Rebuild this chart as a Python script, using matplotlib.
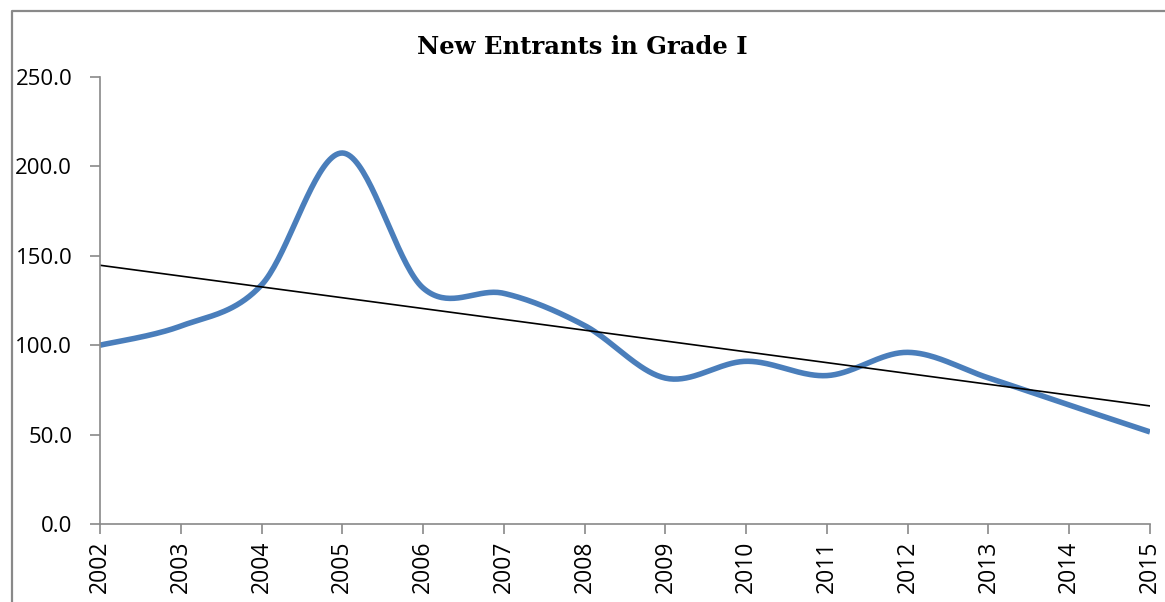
import numpy as np
import matplotlib.pyplot as plt
from matplotlib.lines import Line2D

years = [2002, 2003, 2004, 2005, 2006, 2007, 2008, 2009, 2010, 2011, 2012, 2013, 2014, 2015]
values = [100.0, 110.7, 133.7, 207.5, 132.0, 129.0, 111.0, 81.6, 91.0, 83.0, 96.0, 81.7, 66.5, 51.5]
y_ticks = [0, 50, 100, 150, 200, 250]


def smooth_curve(x, y, n=40):
    # Excel-like smoothing: Catmull-Rom style Bezier segments
    x = np.asarray(x, dtype=float)
    y = np.asarray(y, dtype=float)
    px = np.concatenate([[x[0]], x, [x[-1]]])
    py = np.concatenate([[y[0]], y, [y[-1]]])
    xs, ys = [], []
    t = np.linspace(0, 1, n)
    for i in range(1, len(px) - 2):
        p0 = np.array([px[i], py[i]])
        p3 = np.array([px[i + 1], py[i + 1]])
        c1 = p0 + (p3 - np.array([px[i - 1], py[i - 1]])) / 6
        c2 = p3 - (np.array([px[i + 2], py[i + 2]]) - p0) / 6
        b = ((1 - t) ** 3)[:, None] * p0 + (3 * (1 - t) ** 2 * t)[:, None] * c1 \
            + (3 * (1 - t) * t ** 2)[:, None] * c2 + (t ** 3)[:, None] * p3
        xs.extend(b[:, 0])
        ys.extend(b[:, 1])
    return np.array(xs), np.array(ys)


idx = np.arange(len(years))
sx, sy = smooth_curve(idx, values)
coef = np.polyfit(idx, values, 1)
trend = np.polyval(coef, idx)

fig = plt.figure(figsize=(11.65, 6.02), dpi=100)
# chart area border (left and top edges visible)
bx = 11.5 / 1165
by = 1 - 10.5 / 602
fig.lines.append(Line2D([bx, bx, 1.0], [0.0, by, by], transform=fig.transFigure,
                        color='#898989', linewidth=1.6))

ax = fig.add_axes([100 / 1165, 1 - 524 / 602, 1050 / 1165, 447 / 602])
ax.plot(sx, sy, color='#4a7ebb', linewidth=4, solid_capstyle='butt')
ax.plot(idx, trend, color='black', linewidth=1.2)

ax.set_xlim(0, len(years) - 1)
ax.set_ylim(0, 250)
ax.set_yticks(y_ticks)
ax.set_yticklabels([f'{v:.1f}' for v in y_ticks], fontsize=16, family='Open Sans')
ax.set_xticks(idx)
ax.set_xticklabels([str(y) for y in years], rotation=90, fontsize=16.5, family='Open Sans')

for s in ['top', 'right']:
    ax.spines[s].set_visible(False)
for s in ['left', 'bottom']:
    ax.spines[s].set_color('#898989')
    ax.spines[s].set_linewidth(1.2)
ax.tick_params(axis='both', colors='#898989', labelcolor='black', length=7, width=1.2)
ax.tick_params(axis='y', pad=13)
ax.tick_params(axis='x', pad=5)

fig.text(0.5, 1 - 47 / 602, 'New Entrants in Grade I', ha='center', va='center',
         fontsize=17.5, fontweight='bold', family='DejaVu Serif')

fig.savefig('out.png', dpi=100)
